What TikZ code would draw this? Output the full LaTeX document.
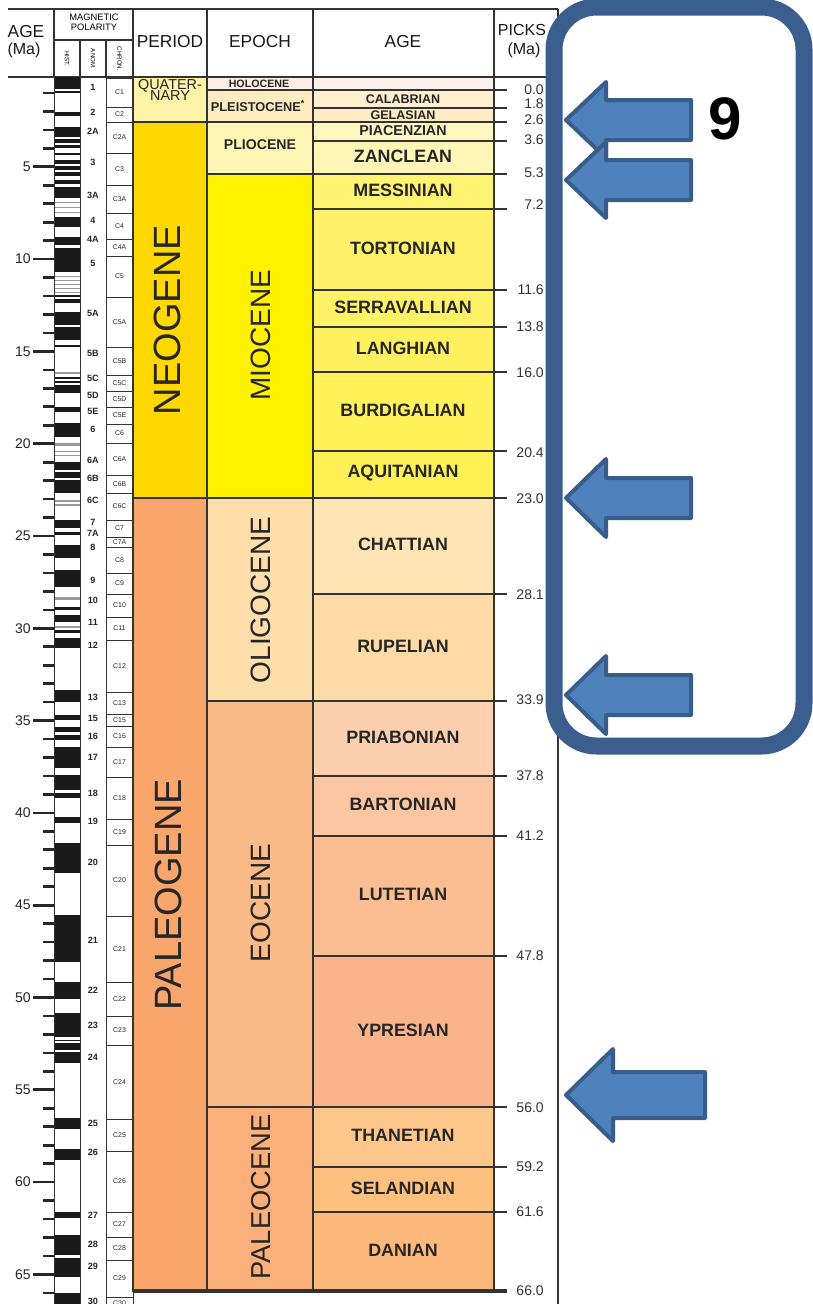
\documentclass[tikz,border=0pt]{standalone}
\usepackage{fontspec}
\setmainfont{Liberation Sans}
\newcommand\fsz[1]{\fontsize{#1}{#1}\selectfont}
\definecolor{lc}{HTML}{333333}
\definecolor{cQuat}{HTML}{FFF3A8}
\definecolor{cNeo}{HTML}{FFD800}
\definecolor{cPaleo}{HTML}{F9A66C}
\definecolor{cHolo}{HTML}{FDEDE6}
\definecolor{cPleis}{HTML}{FFEBC0}
\definecolor{cPlio}{HTML}{FFF6B5}
\definecolor{cMio}{HTML}{FFF200}
\definecolor{cOligo}{HTML}{FEDEAA}
\definecolor{cEo}{HTML}{FBBB88}
\definecolor{cPaleoc}{HTML}{FBB07B}
\definecolor{aHolo}{HTML}{FDF1EB}
\definecolor{aCal}{HTML}{FFEFCF}
\definecolor{aGel}{HTML}{FFEBC6}
\definecolor{aPia}{HTML}{FFF7C2}
\definecolor{aZan}{HTML}{FFF6B8}
\definecolor{aMes}{HTML}{FFF372}
\definecolor{aTor}{HTML}{FFF26A}
\definecolor{aSer}{HTML}{FFF266}
\definecolor{aLan}{HTML}{FFF060}
\definecolor{aBur}{HTML}{FFF15A}
\definecolor{aAqu}{HTML}{FFF155}
\definecolor{aCha}{HTML}{FEE5B3}
\definecolor{aRup}{HTML}{FDDAA6}
\definecolor{aPri}{HTML}{FCD0AE}
\definecolor{aBar}{HTML}{FCC6A2}
\definecolor{aLut}{HTML}{FBBE93}
\definecolor{aYpr}{HTML}{FBB38C}
\definecolor{aTha}{HTML}{FDC78B}
\definecolor{aSel}{HTML}{FDC07F}
\definecolor{aDan}{HTML}{FDB97B}
\definecolor{arrfill}{HTML}{4F81BD}
\definecolor{arrline}{HTML}{385D8A}
\definecolor{framec}{HTML}{3A5F8E}
\newcommand\blkarrow[6]{%
  \draw[arr] (#1,#2) -- (#3,{#2-#4}) -- (#3,{#2-#5}) -- (#6,{#2-#5}) -- (#6,{#2+#5}) -- (#3,{#2+#5}) -- (#3,{#2+#4}) -- cycle;}
\begin{document}
\begin{tikzpicture}[x=0.75pt,y=-0.75pt,
  cell/.style={draw=lc, line width=1.1pt},
  ln/.style={draw=lc, line width=1.1pt},
  agelab/.style={font=\bfseries\fsz{13.4}, text=black!85, inner sep=0pt},
  smlab/.style={font=\bfseries\fsz{9.4}, text=black!85, inner sep=0pt},
  picklab/.style={anchor=east, font=\fsz{10.5}, text=black!80, inner sep=0pt},
  axlab/.style={anchor=east, font=\fsz{10.5}, text=black!85, inner sep=0pt},
  anomlab/.style={font=\bfseries\fsz{6.8}, text=black!85, inner sep=0pt},
  chronlab/.style={font=\fsz{5.2}, text=black!85, inner sep=0pt},
  hdr/.style={font=\fsz{13}, text=black!90, inner sep=0pt},
  bigrot/.style={rotate=90, font=\fsz{28.5}, text=black!85, inner sep=0pt},
  eprot/.style={rotate=90, font=\fsz{21}, text=black!85, inner sep=0pt},
  arr/.style={fill=arrfill, draw=arrline, line width=3pt, line join=round},
  frame/.style={draw=framec, line width=12.75pt, rounded corners=32pt},
]
\useasboundingbox (0,0) rectangle (813,1304);
\fill[white] (0,0) rectangle (813,1304);

% ---------- header ----------
\draw[lc, line width=2.2pt] (8,9) -- (558,9);
\draw[lc, line width=1.6pt] (8,77) -- (558,77);
\foreach \x in {54,133,207,313,494} \draw[ln] (\x,9) -- (\x,77);
\draw[ln] (54,40) -- (133,40);
\foreach \x in {80,106} \draw[ln] (\x,40) -- (\x,77);
\node[hdr] (hAge) at (26,32) {AGE};
\node[hdr, font=\fsz{12}] (hMa) at (24,50) {(Ma)};
\node[font=\fsz{7}, inner sep=0pt] (hMag) at (94,17) {MAGNETIC};
\node[font=\fsz{7}, inner sep=0pt] (hPol) at (94,27) {POLARITY};
\node[rotate=-90, font=\fsz{4.6}, inner sep=0pt] (hHist) at (67,59) {HIST.};
\node[rotate=-90, font=\fsz{4.6}, inner sep=0pt] (hAnom) at (93,59) {ANOM.};
\node[rotate=-90, font=\fsz{4.6}, inner sep=0pt] (hChron) at (119.5,59) {CHRON.};
\node[hdr] (hPer) at (170,42) {PERIOD};
\node[hdr] (hEpo) at (260,42) {EPOCH};
\node[hdr] (hAg2) at (403,42) {AGE};
\node[hdr, font=\fsz{12}] (hPick) at (522,30) {PICKS};
\node[hdr, font=\fsz{12}] (hPMa) at (524,50) {(Ma)};

% ---------- periods ----------
\path[cell, fill=cQuat] (133,77) rectangle (207,122);
\path[cell, fill=cNeo] (133,122) rectangle (207,498);
\path[cell, fill=cPaleo] (133,498) rectangle (207,1291);
\node[font=\fsz{10.8}, text=black!85, inner sep=0pt] (pQ1) at (170,86) {QUATER-};
\node[font=\fsz{10.8}, text=black!85, inner sep=0pt] (pQ2) at (170,96) {NARY};
\node[bigrot] (pNeo) at (167,320) {NEOGENE};
\node[bigrot] (pPal) at (168,895) {PALEOGENE};

% ---------- epochs ----------
\path[cell, fill=cHolo] (207,77) rectangle (313,90);
\path[cell, fill=cPleis] (207,90) rectangle (313,122);
\path[cell, fill=cPlio] (207,122) rectangle (313,174);
\path[cell, fill=cMio] (207,174) rectangle (313,498);
\path[cell, fill=cOligo] (207,498) rectangle (313,701);
\path[cell, fill=cEo] (207,701) rectangle (313,1107);
\path[cell, fill=cPaleoc] (207,1107) rectangle (313,1291);
\node[font=\bfseries\fsz{8}, text=black!85, inner sep=0pt] (eHolo) at (259,83.5) {HOLOCENE};
\node[font=\bfseries\fsz{9.6}, text=black!85, inner sep=0pt] (ePleis) at (258,106) {PLEISTOCENE\textsuperscript{*}};
\node[font=\bfseries\fsz{10.6}, text=black!85, inner sep=0pt] (ePlio) at (260,145) {PLIOCENE};
\node[eprot] (eMio) at (261,335) {MIOCENE};
\node[eprot] (eOli) at (261,600) {OLIGOCENE};
\node[eprot] (eEoc) at (261,903) {EOCENE};
\node[eprot, font=\fsz{20.5}] (ePal) at (261,1197) {PALEOCENE};

% ---------- ages ----------
\path[cell, fill=aHolo] (313,77) rectangle (494,90);
\foreach \a/\b/\c/\t [count=\i] in {
  141/174/aZan/ZANCLEAN, 174/209/aMes/MESSINIAN, 209/290/aTor/TORTONIAN,
  290/327/aSer/SERRAVALLIAN, 327/372/aLan/LANGHIAN, 372/451/aBur/BURDIGALIAN,
  451/498/aAqu/AQUITANIAN, 498/594/aCha/CHATTIAN, 594/701/aRup/RUPELIAN,
  701/776/aPri/PRIABONIAN, 776/836/aBar/BARTONIAN, 836/956/aLut/LUTETIAN,
  956/1107/aYpr/YPRESIAN, 1107/1167/aTha/THANETIAN, 1167/1212/aSel/SELANDIAN,
  1212/1291/aDan/DANIAN}{
  \path[cell, fill=\c] (313,\a) rectangle (494,\b);
  \node[agelab] (age\i) at (403,{(\a+\b)/2-1.5}) {\t};
}
\path[cell, fill=aCal] (313,90) rectangle (494,108);
\path[cell, fill=aGel] (313,108) rectangle (494,122);
\path[cell, fill=aPia] (313,122) rectangle (494,141);
\node[smlab] (aCalL) at (403,99) {CALABRIAN};
\node[smlab] (aGelL) at (403,115) {GELASIAN};
\node[smlab, font=\bfseries\fsz{10.7}] (aPiaL) at (403,131) {PIACENZIAN};

% ---------- picks ----------
\foreach \y in {90,108,122,141,174,209,290,327,372,451,498,594,701,776,836,956,1107,1167,1212}
  \draw[ln] (494,\y) -- (507,\y);
\draw[lc, line width=2.5pt] (133,1291) -- (507,1291);
\foreach \y/\t [count=\i] in {90/0.0, 104/1.8, 120/2.6, 140/3.6, 173/5.3, 205/7.2, 290/11.6,
  327/13.8, 373/16.0, 453/20.4, 499/23.0, 595/28.1, 700/33.9, 776/37.8, 836/41.2,
  956/47.8, 1108/56.0, 1167/59.2, 1212/61.6, 1291/66.0}
  \node[picklab] (pk\i) at (544,\y) {\t};
\draw[lc, line width=2.2pt] (558,9) -- (558,1304);

% ---------- left age axis ----------
\foreach \i in {1,...,66}{
  \pgfmathsetmacro\yy{74.5+18.46*\i}
  \draw[black!85, line width=2pt] (43,\yy) -- (54,\yy);
}
\foreach \i in {5,10,...,65}{
  \pgfmathsetmacro\yy{74.5+18.46*\i}
  \draw[black!85, line width=2pt] (33,\yy) -- (54,\yy);
  \node[axlab] (ax\i) at (31,\yy) {\i};
}

% ---------- polarity bar ----------
\foreach \a/\b in {202/203, 207/208, 212/213, 276/277, 280/281, 284/285, 288/289, 292/293,
  372/374, 443/446, 451/452, 455/456, 500/502, 504/506, 597/600, 626/628}
  \fill[black!40] (54,\a) rectangle (80,\b);
\foreach \a/\b in {77/89, 91/93, 112/116, 127/137, 139/143, 145/148, 153/155, 160/164,
  166/170, 172/176, 180/184, 187/198, 217/227, 237/245, 248/272, 295/297, 299/303,
  312/325, 327/340, 345/347, 377/379, 381/383, 385/393, 407/412, 423/437, 462/470,
  472/478, 480/493, 520/528, 532/535, 545/558, 570/587, 607/610, 615/622, 630/633,
  638/648, 690/702, 715/720, 727/732, 735/740, 747/768, 775/790, 793/798, 817/823,
  843/873, 915/962, 982/999, 1013/1037, 1040/1041, 1043/1050, 1052/1063, 1118/1129,
  1149/1160, 1212/1218, 1235/1255, 1258/1277, 1293/1304}
  \fill[black!90] (54,\a) rectangle (80,\b);
\draw[lc, line width=0.7pt] (54,77) -- (54,1304);
\draw[lc, line width=0.7pt] (80,77) -- (80,1304);

% ---------- chrons and anomalies ----------
\foreach \a/\b/\t/\n/\ny [count=\i] in {
  78/107/C1/1/87, 107/122/C2/2/112, 122/153/C2A/2A/131, 153/185/C3/3/162,
  185/213/C3A/3A/195, 213/239/C4/4/220, 239/256/C4A/4A/239, 256/297/C5/5/263,
  297/347/C5A/5A/313, 347/375/C5B/5B/353, 375/391/C5C/5C/378, 391/407/C5D/5D/395,
  407/424/C5E/5E/411, 424/443/C6/6/429, 443/475/C6A/6A/460, 475/493/C6B/6B/478,
  493/520/C6C/6C/500, 520/537/C7/7/522, 537/547/C7A/7A/533, 547/573/C8/8/547,
  573/594/C9/9/580, 594/617/C10/10/600, 617/640/C11/11/622, 640/692/C12/12/645,
  692/714/C13/13/697, 714/726/C15/15/718, 726/747/C16/16/736, 747/777/C17/17/757,
  777/819/C18/18/793, 819/845/C19/19/821, 845/916/C20/20/862, 916/982/C21/21/940,
  982/1016/C22/22/990, 1016/1045/C23/23/1025, 1045/1119/C24/24/1057,
  1119/1151/C25/25/1123, 1151/1212/C26/26/1152, 1212/1237/C27/27/1215,
  1237/1260/C28/28/1244, 1260/1297/C29/29/1266, 1297/1310/C30/30/1301}{
  \draw[lc, line width=0.7pt] (106,\a) rectangle (133,\b);
  \node[chronlab] (ch\i) at (119.5,{(\a+\b)/2}) {\t};
  \node[anomlab] (an\i) at (93,\ny) {\n};
}

% ---------- frame, arrows, label ----------
\draw[frame] (554,7) rectangle (804,746);
\blkarrow{566}{120}{606}{38}{20}{691}
\blkarrow{566}{180}{606}{38}{20}{691}
\blkarrow{566}{498}{606}{39}{20}{691}
\blkarrow{566}{695}{606}{39}{20}{691}
\blkarrow{566}{1095}{613}{46}{23}{705}
\node[font=\bfseries\fsz{45}, inner sep=0pt] (nine) at (725,119) {9};
\end{tikzpicture}
\end{document}
